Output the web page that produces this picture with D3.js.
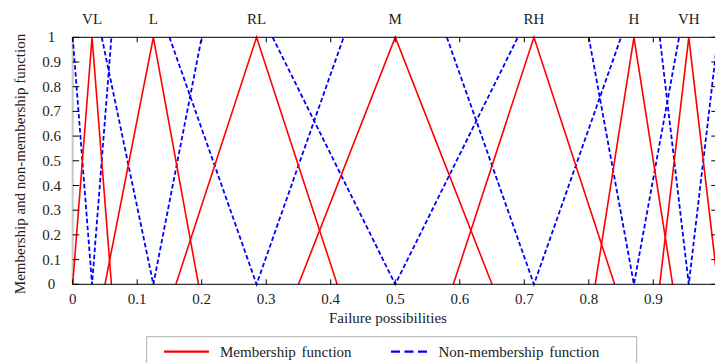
<!DOCTYPE html>
<html>
<head>
<meta charset="utf-8">
<script src="https://cdn.jsdelivr.net/npm/d3@7"></script>
<style>
  html, body { margin: 0; padding: 0; background: #fff; overflow: hidden; }
  svg { display: block; font-family: "Liberation Serif", "DejaVu Serif", serif; }
</style>
</head>
<body>
<svg id="chart" width="715" height="363"></svg>
<script>
// Linguistic terms for the failure possibility scale
const categories = ["VL", "L", "RL", "M", "RH", "H", "VH"];
// Triangular membership functions (left foot, peak, right foot)
const membership = [
  [0, 0.03, 0.06],
  [0.05, 0.125, 0.195],
  [0.16, 0.285, 0.41],
  [0.35, 0.5, 0.65],
  [0.59, 0.715, 0.84],
  [0.81, 0.87, 0.93],
  [0.91, 0.955, 1.0]
];
// Triangular non-membership functions (left shoulder, zero point, right shoulder)
const nonMembership = [
  [0, 0.03, 0.06],
  [0.045, 0.125, 0.2],
  [0.15, 0.285, 0.42],
  [0.31, 0.5, 0.69],
  [0.58, 0.715, 0.85],
  [0.8, 0.87, 0.94],
  [0.91, 0.955, 1.0]
];
const xTicks = [0, 0.1, 0.2, 0.3, 0.4, 0.5, 0.6, 0.7, 0.8, 0.9, 1];
const yTicks = [0, 0.1, 0.2, 0.3, 0.4, 0.5, 0.6, 0.7, 0.8, 0.9, 1];
const legendLabels = ["Membership function", "Non-membership function"];

const svg = d3.select("#chart");
const pL = 72.7, pR = 717.8, pT = 37.3, pB = 284.3;
const x = d3.scaleLinear().domain([0, 1]).range([pL, pR]);
const y = d3.scaleLinear().domain([0, 1]).range([pB, pT]);
const fontSize = 15;

// left axis line (light grey)
svg.append("line")
  .attr("x1", pL).attr("x2", pL).attr("y1", pT).attr("y2", pB)
  .attr("stroke", "#c8c8c8").attr("stroke-width", 2);

// Series lines
const line = d3.line().x(d => x(d[0])).y(d => y(d[1]));

svg.append("g").selectAll("path")
  .data(nonMembership)
  .join("path")
  .attr("d", t => line([[t[0], 1], [t[1], 0], [t[2], 1]]))
  .attr("fill", "none")
  .attr("stroke", "#0000ff")
  .attr("stroke-width", 1.8)
  .attr("stroke-dasharray", "4.5,2.5");

svg.append("g").selectAll("path")
  .data(membership)
  .join("path")
  .attr("d", t => line([[t[0], 0], [t[1], 1], [t[2], 0]]))
  .attr("fill", "none")
  .attr("stroke", "#ff0000")
  .attr("stroke-width", 1.6);

// Box axes: bottom, top, right
const axisG = svg.append("g").attr("stroke", "#000").attr("stroke-width", 1);
axisG.append("line").attr("x1", pL).attr("x2", pR).attr("y1", pB).attr("y2", pB);
axisG.append("line").attr("x1", pL).attr("x2", pR).attr("y1", pT).attr("y2", pT);
axisG.append("line").attr("x1", pR).attr("x2", pR).attr("y1", pT).attr("y2", pB);

// Inward ticks
const xTickLen = 5, yTickLen = 6.5;
axisG.selectAll(".xb").data(xTicks).join("line")
  .attr("x1", d => x(d)).attr("x2", d => x(d))
  .attr("y1", pB).attr("y2", pB - xTickLen);
axisG.append("g").selectAll("line").data(xTicks).join("line")
  .attr("x1", d => x(d)).attr("x2", d => x(d))
  .attr("y1", pT).attr("y2", pT + xTickLen);
axisG.append("g").selectAll("line").data(yTicks).join("line")
  .attr("x1", pL).attr("x2", pL + yTickLen)
  .attr("y1", d => y(d)).attr("y2", d => y(d));
axisG.append("g").selectAll("line").data(yTicks).join("line")
  .attr("x1", pR).attr("x2", pR - yTickLen)
  .attr("y1", d => y(d)).attr("y2", d => y(d));

// Tick labels
const fmt = d => (d === 0 || d === 1) ? String(d) : d3.format(".1f")(d);
svg.append("g").selectAll("text").data(xTicks).join("text")
  .attr("x", d => x(d)).attr("y", 304)
  .attr("text-anchor", "middle").attr("font-size", fontSize).attr("fill", "#222")
  .text(fmt);
svg.append("g").selectAll("text").data(yTicks).join("text")
  .attr("x", 51.5).attr("y", d => y(d) + 5)
  .attr("text-anchor", "middle").attr("font-size", fontSize).attr("fill", "#222")
  .text(fmt);

// Term labels above the peaks
svg.append("g").selectAll("text").data(categories).join("text")
  .attr("x", (d, i) => x(membership[i][1])).attr("y", 24)
  .attr("text-anchor", "middle").attr("font-size", fontSize).attr("fill", "#222")
  .text(d => d);

// Axis titles
svg.append("text")
  .attr("x", 388).attr("y", 323)
  .attr("text-anchor", "middle").attr("font-size", fontSize).attr("fill", "#222")
  .text("Failure possibilities");
svg.append("text")
  .attr("transform", "translate(25, 164) rotate(-90)")
  .attr("text-anchor", "middle").attr("font-size", fontSize).attr("fill", "#222")
  .text("Membership and non-membership function");

// Legend
const lg = svg.append("g");
lg.append("rect")
  .attr("x", 146.7).attr("y", 336.7).attr("width", 490).attr("height", 40)
  .attr("fill", "#fff").attr("stroke", "#b0b0b0").attr("stroke-width", 1);
const legendItems = [
  { label: legendLabels[0], color: "#ff0000", dash: null, x0: 164, x1: 209, tx: 220 },
  { label: legendLabels[1], color: "#0000ff", dash: "9,4.5", x0: 391, x1: 427.5, tx: 438.5 }
];
legendItems.forEach(it => {
  lg.append("line")
    .attr("x1", it.x0).attr("x2", it.x1).attr("y1", 351.7).attr("y2", 351.7)
    .attr("stroke", it.color).attr("stroke-width", 2.2)
    .attr("stroke-dasharray", it.dash);
  lg.append("text")
    .attr("x", it.tx).attr("y", 356.5)
    .attr("font-size", fontSize).attr("fill", "#222").attr("word-spacing", 2)
    .text(it.label);
});
</script>
</body>
</html>
